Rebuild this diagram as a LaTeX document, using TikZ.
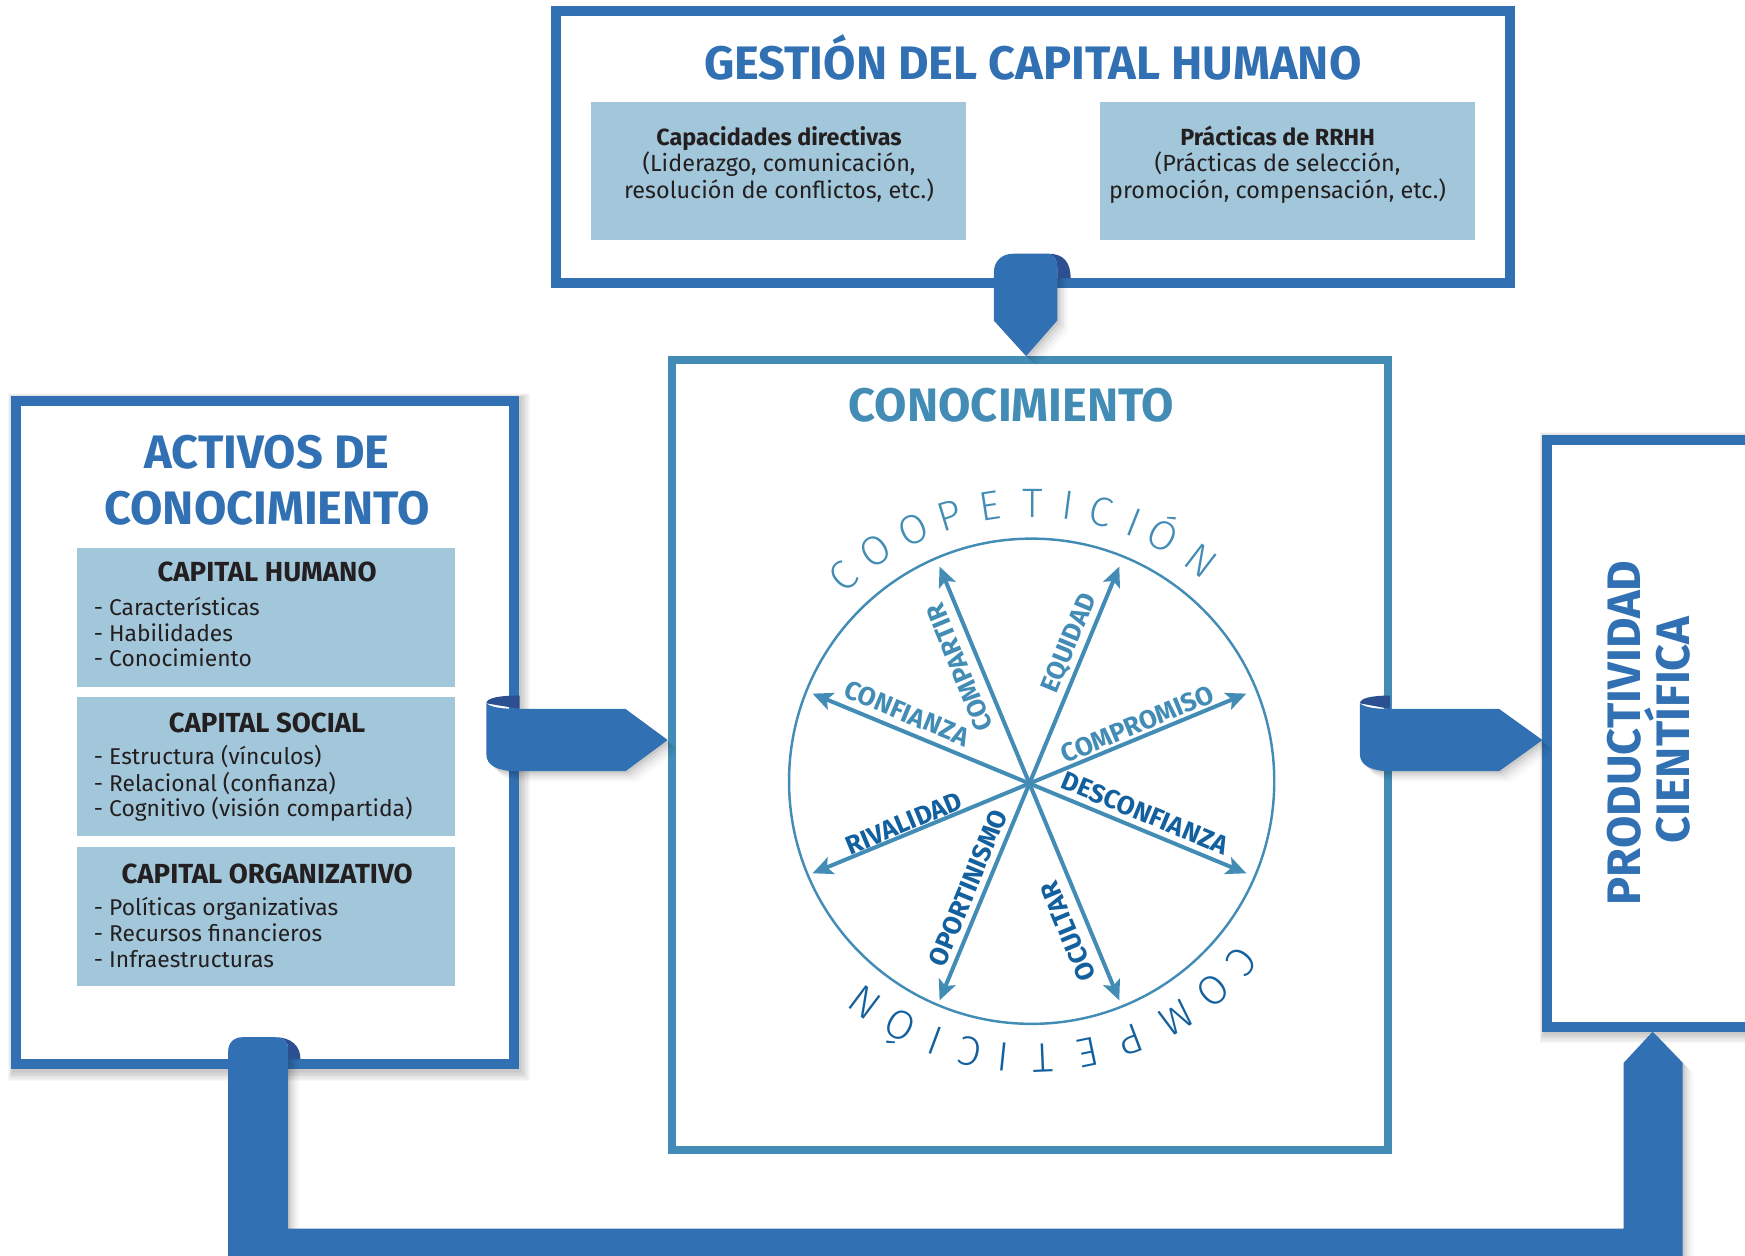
\documentclass[tikz,border=0pt]{standalone}
\usepackage{fontspec}
\setmainfont{Fira Sans}
\newfontfamily\firalight{Fira Sans Light}
\usetikzlibrary{arrows.meta,calc}
\pgfdeclarelayer{background}
\pgfsetlayers{background,main}
\definecolor{mainblue}{HTML}{3170B3}
\definecolor{tealc}{HTML}{428CB6}
\definecolor{darklab}{HTML}{13609F}
\definecolor{lightbox}{HTML}{A3C7DA}
\definecolor{curlc}{HTML}{2B4F90}
\definecolor{txtc}{HTML}{231F20}
\tikzset{
 bluebox/.style={draw=mainblue, line width=4.5pt, fill=white, inner sep=0pt, rectangle},
 tealbox/.style={draw=tealc, line width=3.5pt, fill=white, inner sep=0pt, rectangle},
 infobox/.style={fill=lightbox, inner sep=0pt, rectangle},
 heading/.style={font=\bfseries\fontsize{21.1}{24}\selectfont, inner sep=0pt},
 bodytxt/.style={font=\fontsize{10.5}{12}\selectfont, text=txtc, inner sep=0pt},
 boldtxt/.style={font=\bfseries\fontsize{10.5}{12}\selectfont, text=txtc, inner sep=0pt},
 subhead/.style={font=\bfseries\fontsize{12.4}{14}\selectfont, text=txtc, inner sep=0pt},
 itemtxt/.style={font=\fontsize{10.25}{12}\selectfont, text=txtc, inner sep=0pt},
 spokeline/.style={draw=tealc, line width=1.8pt, {Stealth[length=9pt,width=8pt,inset=2pt]}-{Stealth[length=9pt,width=8pt,inset=2pt]}},
 spokelab/.style={font=\bfseries\fontsize{11.7}{12}\selectfont, inner sep=0pt, text height=8pt, text depth=0pt},
 arcletter/.style={font=\firalight\fontsize{18.5}{18}\selectfont, inner sep=0pt, text height=12.7pt, text depth=0pt},
 ribfill/.style={fill=mainblue},
 curlfill/.style={fill=curlc},
}
\newcommand\myboxshadow[1]{%
 \foreach \k in {1,...,8}{%
  \fill[black,opacity=0.028] ($(#1.north west)+(-\k*0.5+1.5,\k*0.5-1.5)$) rectangle ($(#1.south east)+(\k*1.2+1,-\k*1.2-1)$);}}
\begin{document}
\begin{tikzpicture}[x=0.5pt,y=0.5pt]
\useasboundingbox (0,0) rectangle (1568,-1128);

% ---------- boxes ----------
\node[bluebox, minimum width=428.5pt, minimum height=122.5pt] (gestion) at (928,-132) {};
\node[bluebox, minimum width=223.5pt, minimum height=298pt] (activos) at (238,-658.5) {};
\node[tealbox, minimum width=322pt, minimum height=355pt] (conoc) at (925.5,-678.5) {};
\node[bluebox, minimum width=114.75pt, minimum height=263.5pt] (prod) at (1505.25,-659) {};

\begin{pgfonlayer}{background}
 \fill[white] (0,0) rectangle (1568,-1128);
 \myboxshadow{activos}
 \myboxshadow{prod}
\end{pgfonlayer}

% ---------- top box content ----------
\node[heading, text=mainblue, anchor=base] (gestiontitle) at (928,-71) {GESTIÓN DEL CAPITAL HUMANO};
\node[infobox, minimum width=168.5pt, minimum height=62pt] (capdir) at (699.5,-154) {};
\node[infobox, minimum width=168.5pt, minimum height=62pt] (practicas) at (1156.5,-154) {};
\node[boldtxt, anchor=base] (capdir1) at (700,-131) {Capacidades directivas};
\node[bodytxt, anchor=base] (capdir2) at (700,-154.5) {(Liderazgo, comunicación,};
\node[bodytxt, anchor=base] (capdir3) at (700,-178) {resolución de conflictos, etc.)};
\node[boldtxt, anchor=base] (rrhh1) at (1148,-131) {Prácticas de RRHH};
\node[bodytxt, anchor=base] (rrhh2) at (1148,-154.5) {(Prácticas de selección,};
\node[bodytxt, anchor=base] (rrhh3) at (1148,-178) {promoción, compensación, etc.)};

% ---------- left box content ----------
\node[heading, text=mainblue, anchor=base] (act1) at (240,-421) {ACTIVOS DE};
\node[heading, text=mainblue, anchor=base] (act2) at (240,-471) {CONOCIMIENTO};
\node[infobox, minimum width=169.5pt, minimum height=62.5pt] (ch) at (239,-554.5) {};
\node[infobox, minimum width=169.5pt, minimum height=62.5pt] (cs) at (239,-689) {};
\node[infobox, minimum width=169.5pt, minimum height=62.5pt] (co) at (239,-823.75) {};
\node[subhead, anchor=base] (chT) at (240,-522.5) {CAPITAL HUMANO};
\node[subhead, anchor=base] (csT) at (240,-658.5) {CAPITAL SOCIAL};
\node[subhead, anchor=base] (coT) at (240,-793.5) {CAPITAL ORGANIZATIVO};
\node[itemtxt, anchor=base west] (ch1) at (84,-553) {- Características};
\node[itemtxt, anchor=base west] (ch2) at (84,-576) {- Habilidades};
\node[itemtxt, anchor=base west] (ch3) at (84,-599) {- Conocimiento};
\node[itemtxt, anchor=base west] (cs1) at (84,-687) {- Estructura (vínculos)};
\node[itemtxt, anchor=base west] (cs2) at (84,-711) {- Relacional (confianza)};
\node[itemtxt, anchor=base west] (cs3) at (84,-734) {- Cognitivo (visión compartida)};
\node[itemtxt, anchor=base west] (co1) at (84,-823) {- Políticas organizativas};
\node[itemtxt, anchor=base west] (co2) at (84,-846) {- Recursos financieros};
\node[itemtxt, anchor=base west] (co3) at (84,-869) {- Infraestructuras};

% ---------- right box content ----------
\node[heading, text=mainblue, rotate=90, text height=14.5pt, text depth=0pt] (prod1) at (1460,-658.6) {PRODUCTIVIDAD};
\node[heading, text=mainblue, rotate=90, text height=14.5pt, text depth=0pt] (prod2) at (1504,-656) {CIENTÍFICA};

% ---------- center box content ----------
\node[heading, text=tealc, anchor=base] (conocT) at (909,-379) {CONOCIMIENTO};
\node[draw=tealc, line width=1.1pt, circle, minimum size=218pt, inner sep=0pt] (wheel) at (927,-702) {};
\coordinate (hub) at (925,-704);
\foreach \a in {22.5,67.5,112.5,157.5}
  \draw[spokeline] ($(hub)+(\a:211)$) -- ($(hub)+({\a+180}:211)$);
\foreach \txt/\a/\al/\pp/\r/\c [count=\i] in {
  COMPARTIR/112.5/120/18/112.5/tealc,
  EQUIDAD/67.5/130/16/67.5/tealc,
  CONFIANZA/157.5/126/16/-22.5/tealc,
  COMPROMISO/22.5/110/12/22.5/tealc,
  RIVALIDAD/202.5/118/10/22.5/darklab,
  DESCONFIANZA/-22.5/106/15/-22.5/darklab,
  OPORTINISMO/247.5/108/15/67.5/darklab,
  OCULTAR/292.5/136/19/112.5/darklab}
  \node[spokelab, text=\c, rotate=\r] (lab\i) at ($(hub)+(\a:\al)+({\r+90}:\pp)$) {\txt};
\foreach \ang/\ch [count=\i] in {132.6/C,124.1/O,115.2/O,107.1/P,98.6/E,89.8/T,82.5/I,75.5/C,68.4/I,61.8/Ó,52.5/N}
  \node[arcletter, text=tealc, rotate={\ang-90}] (coop\i) at ($(wheel.center)+(\ang:250)$) {\ch};
\foreach \ang/\ch [count=\i] in {-40.5/C,-49.0/O,-58.6/M,-69.2/P,-78.3/E,-87.6/T,-95.9/I,-102.8/C,-110.3/I,-118.2/Ó,-127.0/N}
  \node[arcletter, text=darklab, rotate={\ang-90}] (comp\i) at ($(wheel.center)+(\ang:249)$) {\ch};

% ---------- ribbons ----------
\coordinate (tipA) at (conoc.west |- 0,-665);
\coordinate (tipB) at (prod.west |- 0,-665);
\coordinate (tipC) at (conoc.north -| 922,0);
\coordinate (tipD) at (prod.south -| 1485,0);
\def\ribA{(437,-632) .. controls (442,-636) and (452,-637) .. (467,-637) -- (562,-637) -- (tipA) -- (562,-693) -- (464,-693) .. controls (448,-693) and (437,-688) .. (437,-678) -- cycle}
\def\ribB{(1222,-632) .. controls (1227,-636) and (1237,-637) .. (1249,-637) -- (1347,-637) -- (tipB) -- (1347,-693) -- (1249,-693) .. controls (1233,-693) and (1222,-688) .. (1222,-678) -- cycle}
\def\ribC{(893,-245) .. controls (893,-235) and (900,-228) .. (910,-228) -- (942,-228) .. controls (947,-229) and (950,-233) .. (950,-240) -- (950,-288) -- (tipC) -- (893,-288) -- cycle}
\def\ribD{(205,-945) .. controls (205,-937) and (210,-932) .. (218,-932) -- (247,-932) .. controls (254,-932) and (259,-936) .. (259,-942) -- (259,-1104) -- (1459,-1104) -- (1459,-955) -- (tipD) -- (1512,-955) -- (1512,-1140) -- (205,-1140) -- cycle}
\foreach \s/\o in {1/0.07,2/0.05,3/0.04,4/0.03,5/0.02}{
  \fill[black, opacity=\o, transform canvas={shift={(\s pt,-\s pt)}}] \ribA;
  \fill[black, opacity=\o, transform canvas={shift={(\s pt,-\s pt)}}] \ribB;
  \fill[black, opacity=\o, transform canvas={shift={(\s pt,-\s pt)}}] \ribC;
  \fill[black, opacity=\o, transform canvas={shift={(\s pt,-\s pt)}}] \ribD;
}
\fill[curlfill] (437,-632) .. controls (437,-627) and (449,-625) .. (467,-625) -- (467,-637) -- cycle;
\fill[ribfill] \ribA;
\fill[curlfill] (1222,-632) .. controls (1222,-627) and (1234,-625) .. (1249,-625) -- (1249,-637) -- cycle;
\fill[ribfill] \ribB;
\fill[curlfill] (942,-228) .. controls (956,-228) and (962,-236) .. (962,-250) -- (950,-250) -- (950,-240) .. controls (950,-233) and (947,-229) .. (942,-228) -- cycle;
\fill[ribfill] \ribC;
\fill[curlfill] (247,-932) .. controls (262,-932) and (270,-940) .. (270,-952) -- (259,-952) -- (259,-942) .. controls (259,-936) and (254,-932) .. (247,-932) -- cycle;
\fill[ribfill] \ribD;
\end{tikzpicture}
\end{document}
